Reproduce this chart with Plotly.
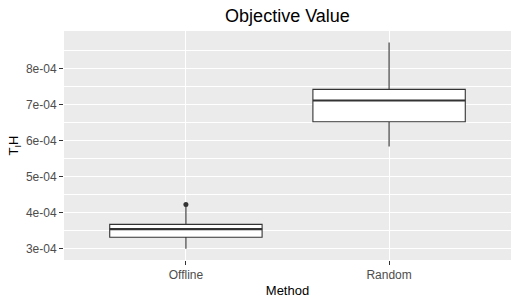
import plotly.graph_objects as go

methods = ["Offline", "Random"]
q1 = [3.32e-4, 6.53e-4]
median = [3.55e-4, 7.12e-4]
q3 = [3.68e-4, 7.43e-4]
lower = [3.00e-4, 5.84e-4]
upper = [4.19e-4, 8.73e-4]
outlier_x = ["Offline"]
outlier_y = [4.23e-4]
tick_vals = [3e-4, 4e-4, 5e-4, 6e-4, 7e-4, 8e-4]
tick_text = ["3e-04", "4e-04", "5e-04", "6e-04", "7e-04", "8e-04"]

fig = go.Figure()
fig.add_trace(go.Box(
    x=methods, q1=q1, median=median, q3=q3,
    lowerfence=lower, upperfence=upper,
    fillcolor="white", line=dict(color="#333333", width=1.1),
    whiskerwidth=0, width=0.75, boxpoints=False, showlegend=False,
    hoverinfo="skip"))
# thicker median line (ggplot fatten)
fig.add_trace(go.Box(
    x=methods, q1=median, median=median, q3=median,
    lowerfence=median, upperfence=median,
    fillcolor="rgba(0,0,0,0)", line=dict(color="#333333", width=2.2),
    whiskerwidth=0, width=0.75, boxpoints=False, showlegend=False,
    hoverinfo="skip"))
fig.add_trace(go.Scatter(
    x=outlier_x, y=outlier_y, mode="markers",
    marker=dict(color="#333333", size=5), showlegend=False))

fig.update_layout(
    width=518, height=306,
    margin=dict(l=64, r=7, t=31, b=46),
    paper_bgcolor="white", plot_bgcolor="#EBEBEB",
    font=dict(family="Liberation Sans, Arial, sans-serif"),
    boxmode="overlay",
    title=dict(text="Objective Value", x=0.555, xanchor="center", y=0.95, yanchor="middle",
               font=dict(size=18, color="black")),
    xaxis=dict(
        type="category", range=[-0.6, 1.6],
        showgrid=True, gridcolor="white", gridwidth=1.1,
        ticks="outside", ticklen=4, tickcolor="#333333", tickwidth=1,
        tickfont=dict(size=12, color="#4D4D4D"),
        title=dict(text="Method", font=dict(size=13, color="black"), standoff=4),
        zeroline=False, showline=False),
    yaxis=dict(
        range=[2.69e-4, 9.05e-4],
        tickvals=tick_vals, ticktext=tick_text,
        showgrid=True, gridcolor="white", gridwidth=1.1,
        minor=dict(showgrid=True, gridcolor="white", gridwidth=0.5,
                   tickvals=[2.5e-4, 3.5e-4, 4.5e-4, 5.5e-4, 6.5e-4, 7.5e-4, 8.5e-4], ticks=""),
        ticks="outside", ticklen=4, tickcolor="#333333", tickwidth=1,
        tickfont=dict(size=12, color="#4D4D4D"),
        title=dict(text="T<sub>I</sub>H", font=dict(size=13, color="black"), standoff=4),
        zeroline=False, showline=False),
)

fig.write_html("out.html")
